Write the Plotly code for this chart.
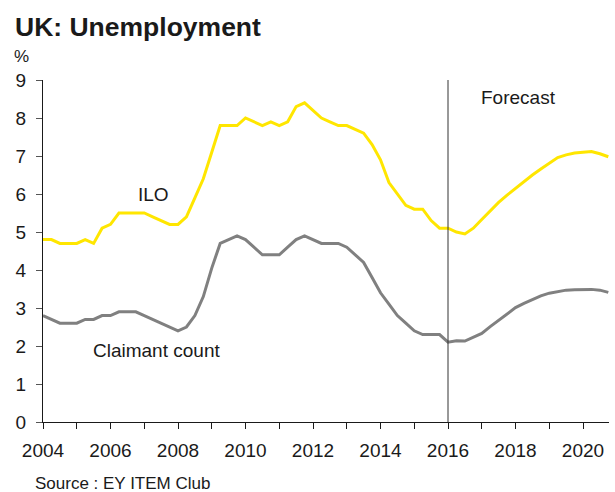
import plotly.graph_objects as go

quarters = [2004 + q / 4 for q in range(68)]

ilo = [4.8, 4.8, 4.7, 4.7,
       4.7, 4.8, 4.7, 5.1,
       5.2, 5.5, 5.5, 5.5,
       5.5, 5.4, 5.3, 5.2,
       5.2, 5.4, 5.9, 6.4,
       7.1, 7.8, 7.8, 7.8,
       8.0, 7.9, 7.8, 7.9,
       7.8, 7.9, 8.3, 8.4,
       8.2, 8.0, 7.9, 7.8,
       7.8, 7.7, 7.6, 7.3,
       6.9, 6.3, 6.0, 5.7,
       5.6, 5.6, 5.3, 5.1,
       5.1, 5.0, 4.95, 5.1,
       5.33, 5.56, 5.78, 5.97,
       6.15, 6.32, 6.5, 6.66,
       6.82, 6.96, 7.03, 7.08,
       7.1, 7.12, 7.06, 6.98]

claimant = [2.8, 2.7, 2.6, 2.6,
            2.6, 2.7, 2.7, 2.8,
            2.8, 2.9, 2.9, 2.9,
            2.8, 2.7, 2.6, 2.5,
            2.4, 2.5, 2.8, 3.3,
            4.05, 4.7, 4.8, 4.9,
            4.8, 4.6, 4.4, 4.4,
            4.4, 4.6, 4.8, 4.9,
            4.8, 4.7, 4.7, 4.7,
            4.6, 4.4, 4.2, 3.8,
            3.4, 3.1, 2.8, 2.6,
            2.4, 2.3, 2.3, 2.3,
            2.1, 2.14, 2.13, 2.22,
            2.33, 2.51, 2.68, 2.86,
            3.01, 3.12, 3.23, 3.32,
            3.39, 3.44, 3.47, 3.48,
            3.49, 3.49, 3.47, 3.41]

forecast_start = 2016
x_tick_years = list(range(2004, 2021, 2))
y_ticks = list(range(0, 10))

FONT = "Liberation Sans, Arial, sans-serif"
TXT = "#1a1a1a"

W, H = 615, 492
ML, MR, MT, MB = 43, 6, 80, 70


def px_to_paper(px, py):
    return (px - ML) / (W - ML - MR), 1 - (py - MT) / (H - MT - MB)


fig = go.Figure()
fig.add_trace(go.Scatter(x=quarters, y=ilo, mode="lines", name="ILO",
                         line=dict(color="#FFE600", width=3)))
fig.add_trace(go.Scatter(x=quarters, y=claimant, mode="lines", name="Claimant count",
                         line=dict(color="#808080", width=3)))

fig.add_shape(type="line", x0=forecast_start, x1=forecast_start, y0=0, y1=9,
              xref="x", yref="y", line=dict(color="#333333", width=1))

fig.add_annotation(x=2007.26, y=6.0, text="ILO", showarrow=False,
                   font=dict(size=19, color=TXT, family=FONT))
fig.add_annotation(x=2007.37, y=1.89, text="Claimant count", showarrow=False,
                   font=dict(size=19, color=TXT, family=FONT))
fig.add_annotation(x=2018.1, y=8.53, text="Forecast", showarrow=False,
                   font=dict(size=19, color=TXT, family=FONT))

pxp = px_to_paper(12, 56)
fig.add_annotation(x=pxp[0], y=pxp[1], xref="paper", yref="paper", text="%",
                   showarrow=False, xanchor="left", yanchor="middle",
                   font=dict(size=17, color=TXT, family=FONT))
sp = px_to_paper(33, 483)
fig.add_annotation(x=sp[0], y=sp[1], xref="paper", yref="paper",
                   text="Source : EY ITEM Club", showarrow=False,
                   xanchor="left", yanchor="middle",
                   font=dict(size=17, color=TXT, family=FONT))

fig.update_layout(
    width=W, height=H,
    margin=dict(l=ML, r=MR, t=MT, b=MB),
    paper_bgcolor="white", plot_bgcolor="white",
    showlegend=False,
    title=dict(text="<b>UK: Unemployment</b>", x=15 / W, xanchor="left",
               y=1 - 27 / H, yanchor="middle",
               font=dict(size=26.5, color=TXT, family=FONT)),
    font=dict(family=FONT, color=TXT),
)

fig.update_xaxes(range=[2004, 2020.77], tickvals=x_tick_years,
                 ticktext=[str(y) for y in x_tick_years],
                 showgrid=False, zeroline=False, showline=True,
                 linecolor="#1a1a1a", linewidth=1,
                 ticks="outside", ticklen=6, tickcolor="#1a1a1a",
                 tickfont=dict(size=19, color=TXT, family=FONT),
                 ticklabelstandoff=5,
                 minor=dict(dtick=1, tick0=2004, ticks="outside", ticklen=6,
                            tickcolor="#1a1a1a", showgrid=False))
fig.update_yaxes(range=[0, 9], tickvals=y_ticks,
                 showgrid=False, zeroline=False, showline=True,
                 linecolor="#1a1a1a", linewidth=1,
                 ticks="outside", ticklen=6, tickcolor="#555555",
                 tickfont=dict(size=19, color=TXT, family=FONT),
                 ticklabelstandoff=6)

fig.write_html("out.html")
